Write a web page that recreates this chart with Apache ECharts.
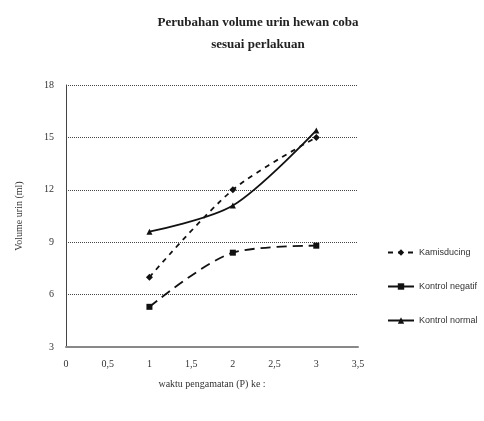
<!DOCTYPE html>
<html><head><meta charset="utf-8">
<script src="https://cdn.jsdelivr.net/npm/echarts@6/dist/echarts.min.js"></script>
<style>html,body{margin:0;padding:0;background:#fff}#c{width:484px;height:421px}</style>
</head><body><div id="c"></div>
<script>
const xValues = [1, 2, 3];
const kamisducing = [7, 12, 15];
const kontrolNegatif = [5.3, 8.4, 8.8];
const kontrolNormal = [9.6, 11.1, 15.4];
const seriesNames = ['Kamisducing', 'Kontrol negatif', 'Kontrol normal'];

const chart = echarts.init(document.getElementById('c'));
const txt = '#333';
function pts(arr){ return xValues.map((x,i)=>[x, arr[i]]); }
chart.setOption({
  animation: false,
  backgroundColor: '#fff',
  title: {
    text: 'Perubahan volume urin hewan coba\nsesuai perlakuan',
    left: 253, top: 7, textAlign: 'center',
    textStyle: {fontFamily: 'Liberation Serif', fontWeight: 'bold', fontSize: 13, color: '#222', lineHeight: 22}
  },
  legend: {
    orient: 'vertical', left: 382, top: 243, itemGap: 25, itemWidth: 26, itemHeight: 8,
    data: seriesNames,
    textStyle: {fontFamily: 'Liberation Sans', fontSize: 9, color: txt}
  },
  grid: {left: 66, top: 85, right: 126, bottom: 74},
  xAxis: {
    type: 'value', min: 0, max: 3.5, interval: 0.5,
    name: 'waktu pengamatan (P) ke :', nameLocation: 'middle', nameGap: 32,
    nameTextStyle: {fontFamily: 'Liberation Serif', fontSize: 10, color: txt},
    axisLine: {show: true, lineStyle: {color: '#888', width: 2}},
    axisTick: {show: false},
    splitLine: {show: false},
    axisLabel: {fontFamily: 'Liberation Serif', fontSize: 10, color: txt, margin: 12,
      formatter: v => String(v).replace('.', ',')}
  },
  yAxis: {
    type: 'value', min: 3, max: 18, interval: 3,
    name: 'Volume urin (ml)', nameLocation: 'middle', nameGap: 42,
    nameTextStyle: {fontFamily: 'Liberation Serif', fontSize: 10, color: txt},
    axisLine: {show: true, lineStyle: {color: '#444', width: 1}},
    axisTick: {show: false},
    splitLine: {show: true, lineStyle: {color: '#444', type: 'dotted', width: 1}},
    axisLabel: {fontFamily: 'Liberation Serif', fontSize: 10, color: txt, margin: 12}
  },
  series: [
    {name: seriesNames[0], type: 'line', data: pts(kamisducing), smooth: 0.3,
     symbol: 'diamond', symbolSize: 7, itemStyle: {color: '#111'},
     lineStyle: {color: '#111', width: 1.8, type: [5, 5]}},
    {name: seriesNames[1], type: 'line', data: pts(kontrolNegatif), smooth: 0.3,
     symbol: 'rect', symbolSize: 6, itemStyle: {color: '#111'},
     lineStyle: {color: '#111', width: 1.8, type: [10, 6]}},
    {name: seriesNames[2], type: 'line', data: pts(kontrolNormal), smooth: 0.3,
     symbol: 'triangle', symbolSize: 6, itemStyle: {color: '#111'},
     lineStyle: {color: '#111', width: 1.8}}
  ]
});
</script></body></html>
